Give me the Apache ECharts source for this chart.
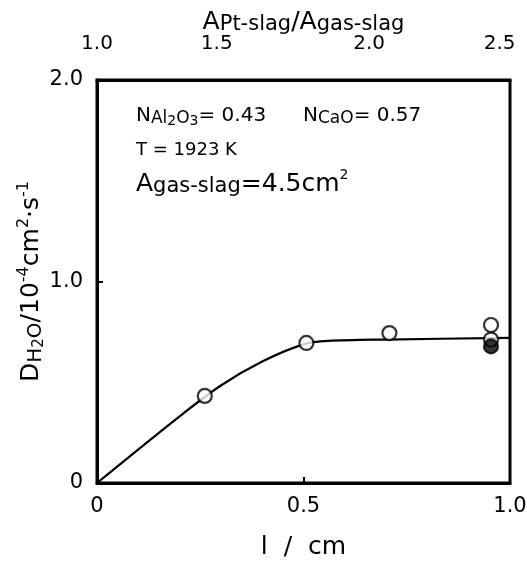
<!DOCTYPE html>
<html>
<head>
<meta charset="utf-8">
<script src="https://cdn.jsdelivr.net/npm/echarts@6/dist/echarts.min.js"></script>
<style>html,body{margin:0;padding:0;background:#fff;}#c{width:527px;height:562px;}</style>
</head>
<body>
<div id="c"></div>
<script>
// Data (l in cm, D in 1e-4 cm^2/s)
var openL = [0.261, 0.507, 0.708, 0.954, 0.954];
var openD = [0.432, 0.695, 0.744, 0.784, 0.712];
var filledL = [0.954];
var filledD = [0.678];
var curveL = [0, 0.2, 0.3, 0.4, 0.5, 0.56, 0.7, 1.0];
var curveD = [0, 0.331, 0.484, 0.603, 0.688, 0.705, 0.712, 0.72];
var bottomTicks = ['0', '0.5', '1.0'];
var leftTicks = ['0', '1.0', '2.0'];
var topTickLabels = ['1.0', '1.5', '2.0', '2.5'];
var topTickAtL = [0, 0.29, 0.659, 0.975];

function pairs(xs, ys) { return xs.map(function (x, i) { return [x, ys[i]]; }); }

var font = 'DejaVu Sans';
var chart = echarts.init(document.getElementById('c'));
chart.setOption({
  animation: false,
  backgroundColor: '#fff',
  textStyle: { fontFamily: font, color: '#000' },
  grid: { left: 97, right: 17, top: 80, bottom: 79, containLabel: false, outerBoundsMode: 'none',
    show: true, borderColor: '#000', borderWidth: 3 },
  xAxis: [{
    type: 'value', position: 'bottom', min: 0, max: 1, interval: 0.5,
    axisLine: { show: true, lineStyle: { color: '#000', width: 3 } },
    axisTick: { show: true, inside: true, length: 6, lineStyle: { color: '#000', width: 2 } },
    splitLine: { show: false },
    axisLabel: { color: '#000', fontSize: 21, fontFamily: font, margin: 13,
      formatter: function (v) { return bottomTicks[Math.round(v / 0.5)]; } },
    name: 'l  /  cm', nameLocation: 'middle', nameGap: 52,
    nameTextStyle: { color: '#000', fontSize: 25, fontFamily: font }
  }, {
    type: 'value', position: 'top', min: 0, max: 1,
    axisLine: { show: true, lineStyle: { color: '#000', width: 3 } },
    axisTick: { show: false },
    splitLine: { show: false },
    axisLabel: { color: '#000', fontSize: 20, fontFamily: font, margin: 26, customValues: topTickAtL,
      formatter: function (v) {
        var best = 0;
        for (var i = 1; i < topTickAtL.length; i++) if (Math.abs(topTickAtL[i] - v) < Math.abs(topTickAtL[best] - v)) best = i;
        return topTickLabels[best];
      } },
    name: 'A{sub|Pt-slag}/A{sub|gas-slag}', nameLocation: 'middle', nameGap: 58, nameMoveOverlap: false,
    nameTextStyle: { color: '#000', fontSize: 25, fontFamily: font, verticalAlign: 'middle',
      rich: { sub: { fontSize: 21, fontFamily: font, color: '#000', padding: [6, 0, 0, 0] } } }
  }],
  yAxis: [{
    type: 'value', min: 0, max: 2, interval: 1,
    axisLine: { show: true, lineStyle: { color: '#000', width: 3 } },
    axisTick: { show: true, inside: true, length: 6, lineStyle: { color: '#000', width: 2 } },
    splitLine: { show: false },
    axisLabel: { color: '#000', fontSize: 21, fontFamily: font, margin: 14,
      formatter: function (v) { return leftTicks[Math.round(v)]; } },
    name: 'D{sub|H}{sub2|2}{sub|O}/10{sup|-4}cm{sup|2}·s{sup|-1}', nameLocation: 'middle', nameGap: 66, nameRotate: 90,
    nameMoveOverlap: false,
    nameTextStyle: { color: '#000', fontSize: 25, fontFamily: font, verticalAlign: 'middle',
      rich: {
        sub: { fontSize: 20, fontFamily: font, color: '#000', padding: [9, 0, 0, 0] },
        sub2: { fontSize: 15, fontFamily: font, color: '#000', padding: [16, 0, 0, 0] },
        sup: { fontSize: 16, fontFamily: font, color: '#000', padding: [0, 0, 14, 0] }
      } }
  }],
  graphic: [
    { type: 'text', left: 136, top: 106, style: {
      text: 'N{sub|Al}{sub2|2}{sub|O}{sub2|3}= 0.43', font: '20px "DejaVu Sans"', fill: '#000',
      rich: { sub: { fontSize: 17, fontFamily: font, fill: '#000', padding: [5, 0, 0, 0] },
              sub2: { fontSize: 14, fontFamily: font, fill: '#000', padding: [10, 0, 0, 0] } } } },
    { type: 'text', left: 303, top: 106, style: {
      text: 'N{sub|CaO}= 0.57', font: '20px "DejaVu Sans"', fill: '#000',
      rich: { sub: { fontSize: 17, fontFamily: font, fill: '#000', padding: [5, 0, 0, 0] } } } },
    { type: 'text', left: 136, top: 141, style: {
      text: 'T = 1923 K', font: '18px "DejaVu Sans"', fill: '#000' } },
    { type: 'text', left: 136, top: 168, style: {
      text: 'A{sub|gas-slag}=4.5cm{sup|2}', font: '25px "DejaVu Sans"', fill: '#000',
      rich: { sub: { fontSize: 21, fontFamily: font, fill: '#000', padding: [6, 0, 0, 0] },
              sup: { fontSize: 14, fontFamily: font, fill: '#000', padding: [0, 0, 18, 0] } } } }
  ],
  series: [{
    type: 'line', xAxisIndex: 0, yAxisIndex: 0, data: pairs(curveL, curveD), smooth: 0.3,
    showSymbol: false, symbol: 'none', lineStyle: { color: '#000', width: 2.2 }, z: 2
  }, {
    type: 'scatter', xAxisIndex: 0, yAxisIndex: 0, data: pairs(openL, openD), symbol: 'circle', symbolSize: 14,
    itemStyle: { color: '#fff', borderColor: '#000', borderWidth: 2.2 }, z: 3
  }, {
    type: 'scatter', xAxisIndex: 0, yAxisIndex: 0, data: pairs(filledL, filledD), symbol: 'circle', symbolSize: 14,
    itemStyle: { color: '#000', borderColor: '#000', borderWidth: 2.2 }, z: 4
  }]
});
</script>
</body>
</html>
